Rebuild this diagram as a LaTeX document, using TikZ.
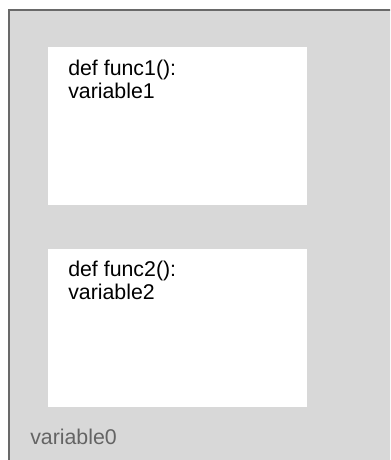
\documentclass[tikz,border=0pt]{standalone}
\usepackage{fontspec}
\setmainfont{Liberation Sans}
\usepackage{xcolor}
\usetikzlibrary{positioning}
\definecolor{scopebg}{RGB}{216,216,216}
\definecolor{scopeframe}{RGB}{105,105,105}
\definecolor{globaltext}{RGB}{100,100,100}

\begin{document}
\begin{tikzpicture}[
        x=0.75pt, y=-0.75pt,
        funcbox/.style={rectangle, fill=white, minimum width=194.25pt, minimum height=118.5pt, inner sep=0pt},
        codetext/.style={anchor=north west, align=left, inner sep=0pt, font=\fontsize{16}{17.25}\selectfont},
        globallabel/.style={anchor=base west, inner sep=0pt, text=globaltext, font=\fontsize{16}{17.25}\selectfont}
    ]
    \useasboundingbox (0,0) rectangle (390,460);
    \clip (0,0) rectangle (390,460);

    % Outer scope
    \fill[scopebg] (9,10) rectangle (400,470);
    \draw[scopeframe, line width=1.1pt] (9,470) -- (9,10) -- (400,10);

    % Nodes
    \node[funcbox, anchor=north west] (func1) at (48,47) {};
    \node[funcbox, below=32.25pt of func1] (func2) {};
    \node[codetext, below right=9.5pt and 15pt of func1.north west] (func1text) {def func1():\\variable1};
    \node[codetext, below right=9.5pt and 15pt of func2.north west] (func2text) {def func2():\\variable2};
    \node[globallabel] (var0) at (30,444) {variable0};

\end{tikzpicture}
\end{document}
